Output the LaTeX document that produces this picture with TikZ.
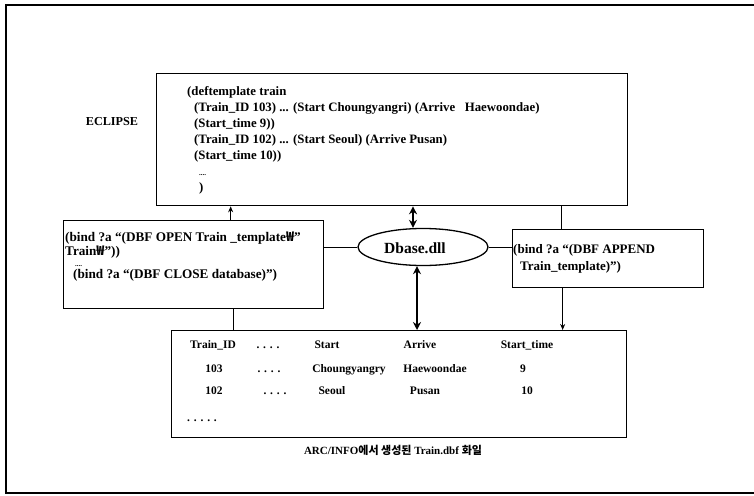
\documentclass[tikz,border=0pt]{standalone}
\usepackage{fontspec}
\setmainfont{Liberation Serif}
\newfontfamily\kr{Noto Sans CJK KR}
\usetikzlibrary{shapes.geometric,arrows.meta}
\begin{document}
\begin{tikzpicture}[x=1pt,y=-1pt,
  box/.style={draw=black, line width=1.3pt, rectangle, inner sep=0pt, anchor=north west},
  txt/.style={font=\fontsize{11}{16}\selectfont\bfseries, inner sep=0pt},
  conn/.style={draw=black, line width=1pt},
  thinarrow/.style={conn, -{Stealth[length=6pt,width=5pt]}},
  thickarrow/.style={draw=black, line width=2.4pt, {Stealth[length=8pt,width=8pt]}-{Stealth[length=8pt,width=8pt]}},
  frame/.style={draw=black, line width=1.5pt}]
\useasboundingbox (0,0) rectangle (754,495);
\fill[white] (0,0) rectangle (754,495);
% outer frame
\draw[frame] (754,5) -- (6,5) -- (6,493) -- (754,493);

% boxes
\node[box, minimum width=471pt, minimum height=132pt] (ecl) at (156,73) {};
\node[box, minimum width=260pt, minimum height=88pt] (lb) at (63,220) {};
\node[box, minimum width=191pt, minimum height=58pt] (rb) at (512,229) {};
\node[box, minimum width=455pt, minimum height=107pt] (bb) at (171,330) {};
\node[draw=black, line width=1.3pt, ellipse, minimum width=130pt, minimum height=37pt, inner sep=0pt] (ell) at (423,247) {};

% labels
\node[txt, font=\fontsize{12.2}{14}\selectfont\bfseries] (ecllabel) at (112,122) {ECLIPSE};
\node[txt, font=\fontsize{15.5}{16}\selectfont\bfseries] (dlltxt) at (415,248) {Dbase.dll};

\node[txt, align=left, anchor=north west, font=\fontsize{12.8}{16}\selectfont\bfseries] (ecltxt) at (187,86) {%
(deftemplate train\\
\hspace{7pt}(Train\_ID 103) ... (Start Choungyangri) (Arrive \ \ Haewoondae)\\
\hspace{7pt}(Start\_time 9))\\
\hspace{7pt}(Train\_ID 102) ... (Start Seoul) (Arrive Pusan)\\
\hspace{7pt}(Start\_time 10))\\
\hspace{12pt}{\fontsize{7}{16}\selectfont ....}\\
\hspace{12pt})};

\node[txt, align=left, anchor=north west, font=\fontsize{13.2}{11.6}\selectfont\bfseries] (lbtxt) at (65,232) {%
(bind ?a “(DBF OPEN Train \_template{\kr ₩}”\\
Train{\kr ₩}”))\\
\hspace{10pt}{\fontsize{7}{11.6}\selectfont ....}\\
\hspace{8pt}(bind ?a “(DBF CLOSE database)”)};

\node[txt, align=left, anchor=north west, font=\fontsize{13}{17}\selectfont\bfseries] (rbtxt) at (513,244) {%
(bind ?a “(DBF APPEND\\
\hspace{7pt}Train\_template)”)};

% table
\foreach \t/\x/\y [count=\i] in {
  Train\_ID/213/348.5, {. . . .}/268/348.5, Start/327/348.5, Arrive/420/348.5, Start\_time/527/348.5,
  103/214/372.5, {. . . .}/269/372.5, Choungyangry/349/372.5, Haewoondae/435/372.5, 9/523/372.5,
  102/214/394.5, {. . . .}/275/394.5, Seoul/332/394.5, Pusan/425/394.5, 10/527/394.5,
  {. . . . .}/202/421}
  \node[txt, anchor=base, font=\fontsize{11.5}{14}\selectfont\bfseries] (cell\i) at (\x,\y) {\t};

% caption
\node[txt] (caption) at (393,450) {ARC/INFO{\kr\bfseries 에서 생성된} Train.dbf {\kr\bfseries 화일}};

% connectors
\draw[thinarrow] ([xshift=37pt]lb.north) -- ([xshift=37pt]lb.north |- ecl.south);
\draw[conn] ([xshift=40pt]lb.south) -- ([xshift=40pt]lb.south |- bb.north);
\draw[conn] ([xshift=-46.5pt]rb.north) -- ([xshift=-46.5pt]rb.north |- ecl.south);
\draw[thinarrow] ([xshift=-45.5pt]rb.south) -- ([xshift=-45.5pt]rb.south |- bb.north);
\draw[conn] (ell.west) -- (ell.west -| lb.east);
\draw[conn] (ell.east) -- (ell.east -| rb.west);
\draw[thickarrow] ([xshift=-10pt]ell.north |- ecl.south) -- ([xshift=-10pt]ell.north);
\draw[thickarrow] ([xshift=-6pt]ell.south) -- ([xshift=-6pt]ell.south |- bb.north);
\end{tikzpicture}
\end{document}
